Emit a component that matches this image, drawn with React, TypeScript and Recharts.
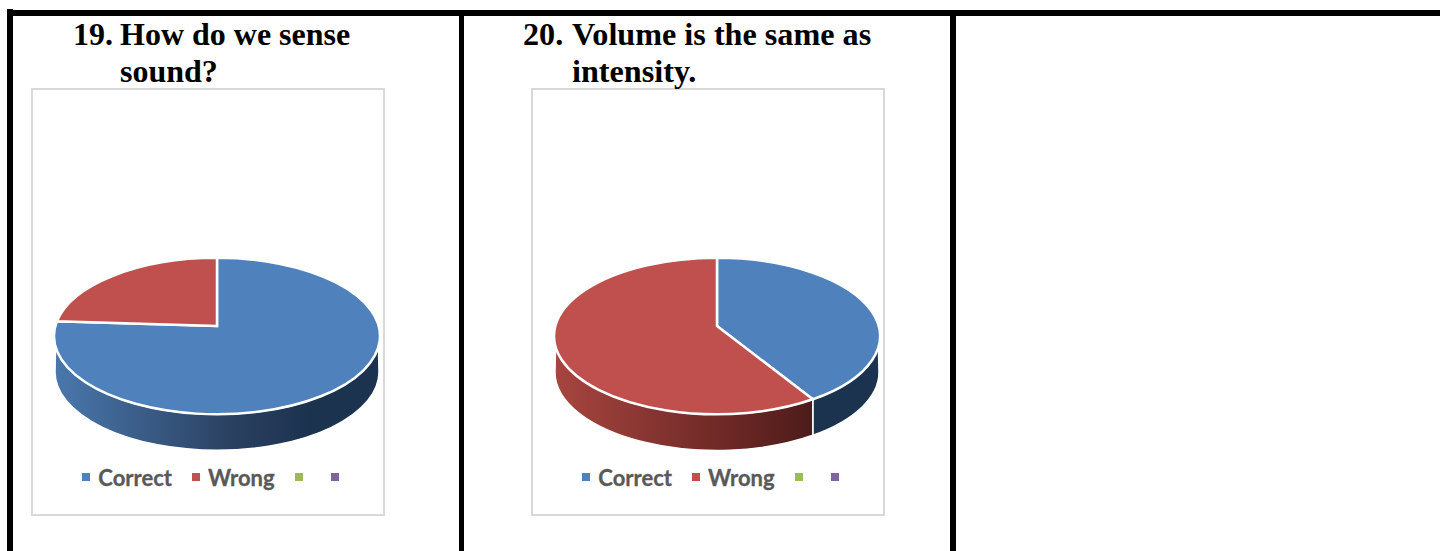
import { Legend, Pie, PieChart } from 'recharts';

const categories = ['Correct', 'Wrong', ' ', '  '];
const senseSoundValues = [78, 22, 0, 0];
const volumeValues = [40, 60, 0, 0];
const sliceColors = ['#4f81bd', '#c0504d', '#9bbb59', '#8064a2'];
const senseSoundTitle = ['19.', 'How do we sense', 'sound?'];
const volumeTitle = ['20.', 'Volume is the same as', 'intensity.'];

const TILT = 0.48;
const DEPTH = 36;
const APEX_LIFT = 10;

const WALL_STOPS: Record<string, [number, string][]> = {
  '#4f81bd': [[0, '#4a78ad'], [0.56, '#293f5e'], [0.78, '#1c3350'], [1, '#1c3350']],
  '#c0504d': [[0, '#a8453f'], [0.57, '#682624'], [0.8, '#4c1c1a'], [1, '#4c1c1a']],
};

const rad = (deg: number) => (deg * Math.PI) / 180;

// flattened pie sector, with a side wall for the part facing the viewer
function TiltedSector(props: any, chartId: string) {
  const { cx, cy, outerRadius: rx, startAngle, endAngle, fill } = props;
  if (startAngle === endAngle) return <g />;
  const ry = rx * TILT;
  const pt = (a: number, dy = 0, r = rx) => `${cx + r * Math.cos(rad(a))} ${cy + dy - ry * Math.sin(rad(a))}`;
  const large = Math.abs(startAngle - endAngle) > 180 ? 1 : 0;
  const top = `M ${cx} ${cy - APEX_LIFT} L ${pt(startAngle)} A ${rx} ${ry} 0 ${large} 1 ${pt(endAngle)} Z`;

  const lo = Math.max(endAngle, -180);
  const hi = Math.min(startAngle, 0);
  let wall = '';
  if (lo < hi) {
    const topHi = hi === 0 ? -8 : hi;
    const topLo = lo === -180 ? -172 : lo;
    wall =
      `M ${pt(topHi)} A ${rx} ${ry} 0 0 1 ${pt(topLo)} ` +
      `L ${pt(lo, DEPTH, lo === -180 ? rx - 1 : rx)} ` +
      `A ${rx - 1} ${ry} 0 0 0 ${pt(hi, DEPTH, hi === 0 ? rx - 1 : rx)} Z`;
  }
  return (
    <g>
      {wall && <path d={wall} fill={`url(#${chartId}-wall-${fill.slice(1)})`} stroke="#fff" strokeWidth={1.5} />}
      <path d={top} fill={fill} stroke="#fff" strokeWidth={2.5} strokeLinejoin="miter" />
    </g>
  );
}

function LegendRow({ payload }: any) {
  return (
    <div style={{ display: 'flex', justifyContent: 'center', alignItems: 'center', height: 26, paddingLeft: 13 }}>
      {(payload || []).map((item: any, i: number) => (
        <div key={i} style={{ display: 'flex', alignItems: 'center', marginRight: i === payload.length - 1 ? 0 : 20 }}>
          <span style={{ width: 8, height: 8, background: item.color, marginRight: 8 }} />
          <span style={{ font: 'bold 22px Lato', color: '#595959', whiteSpace: 'pre', WebkitTextStroke: '0.3px #595959' }}>{item.value.trim()}</span>
        </div>
      ))}
    </div>
  );
}

function QuizPie({ id, values, left }: { id: string; values: number[]; left: number }) {
  const rows = categories.map((name, i) => ({ name, value: values[i], fill: sliceColors[i] }));
  return (
    <div style={{ position: 'absolute', left, top: 88, width: 354, height: 428, boxSizing: 'border-box', boxShadow: 'inset 0 0 0 2px #d9d9d9' }}>
      <PieChart width={354} height={428} margin={{ top: 0, right: 0, bottom: 0, left: 0 }}>
        <defs>
          {Object.entries(WALL_STOPS).map(([color, stops]) => (
            <linearGradient key={color} id={`${id}-wall-${color.slice(1)}`} gradientUnits="userSpaceOnUse" x1={23} y1={0} x2={349} y2={0}>
              {stops.map(([offset, stopColor]) => (
                <stop key={offset} offset={offset} stopColor={stopColor} />
              ))}
            </linearGradient>
          ))}
        </defs>
        <Pie
          data={rows}
          dataKey="value"
          nameKey="name"
          cx={186}
          cy={248}
          outerRadius={163}
          startAngle={90}
          endAngle={-270}
          stroke="#fff"
          isAnimationActive={false}
          legendType="square"
          shape={(p: any) => TiltedSector(p, id)}
        />
        <Legend itemSorter={null} content={<LegendRow />} wrapperStyle={{ position: 'absolute', left: 0, top: 376, width: 354 }} />
      </PieChart>
    </div>
  );
}

function Title({ lines, x, indent, size }: { lines: string[]; x: number; indent: number; size: number }) {
  const line = { position: 'absolute', font: `bold ${size}px "Liberation Serif"`, color: '#000', whiteSpace: 'pre', lineHeight: '37px' } as const;
  return (
    <>
      <span style={{ ...line, left: x, top: 16 }}>{lines[0]}</span>
      <span style={{ ...line, left: indent, top: 16 }}>{lines[1]}</span>
      <span style={{ ...line, left: indent, top: 53 }}>{lines[2]}</span>
    </>
  );
}

const bar = (left: number, top: number, width: number, height: number) => (
  <div style={{ position: 'absolute', left, top, width, height, background: '#000' }} />
);

export default function App() {
  return (
    <div style={{ position: 'absolute', left: 0, top: 0, width: 1440, height: 551, overflow: 'hidden', background: '#fff' }}>
      {bar(7, 10, 1433, 6)}
      {bar(7, 9, 6, 542)}
      {bar(459, 10, 5, 541)}
      {bar(950, 10, 6, 541)}
      <QuizPie id="sense" values={senseSoundValues} left={31} />
      <QuizPie id="volume" values={volumeValues} left={531} />
      <Title lines={senseSoundTitle} x={73} indent={120} size={32} />
      <Title lines={volumeTitle} x={523} indent={572} size={32.2} />
    </div>
  );
}
